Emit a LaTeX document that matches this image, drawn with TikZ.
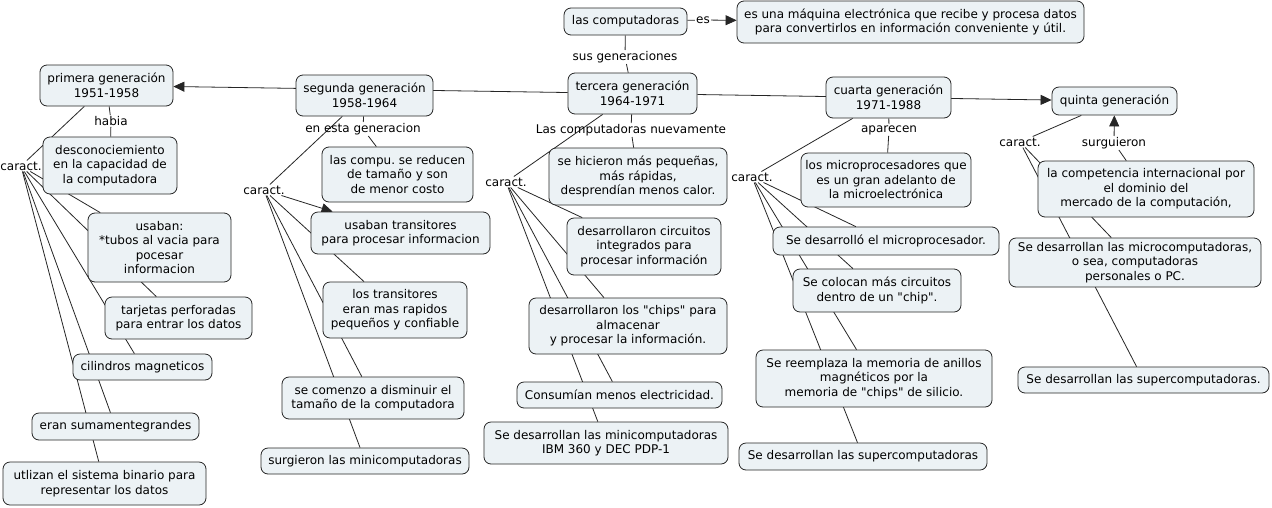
\documentclass[tikz,border=0pt]{standalone}
\usepackage{fontspec}
\setmainfont{DejaVu Sans}[Ligatures=TeXOff]
\usetikzlibrary{arrows.meta,backgrounds}
\definecolor{cfill}{RGB}{236,242,245}
\newcommand{\sq}{\symbol{34}}
\frenchspacing
\begin{document}
\begin{tikzpicture}[x=1pt,y=-1pt,
  every node/.style={font=\fontsize{12}{14.5}\selectfont},
  concept/.style={draw=black!85, line width=0.8pt, fill=cfill, rounded corners=7pt, align=center, inner sep=1pt},
  sz/.style 2 args={minimum width=#1pt, minimum height=#2pt},
  lbl/.style={inner sep=1pt, align=center},
  link/.style={draw=black!85, line width=0.8pt},
  arr/.style={link, -{Triangle[length=11pt,width=10pt]}}
]
\useasboundingbox (0,0) rectangle (1272,507);

% top
\node[concept, sz={123}{27}] (comp) at (625.5,21.5) {las computadoras};
\node[concept, sz={347}{42}] (def) at (910.5,22) {es una máquina electrónica que recibe y procesa datos\\para convertirlos en información conveniente y útil.};
\node[lbl] (es) at (703,20) {es};
\node[lbl] (susgen) at (625,57) {sus generaciones};

% generations
\node[concept, sz={133}{41}] (primera) at (106.5,85.5) {primera generación\\1951-1958};
\node[concept, sz={137}{41}] (segunda) at (364.5,95.5) {segunda generación\\1958-1964};
\node[concept, sz={129}{41}] (tercera) at (632.5,93.5) {tercera generación\\1964-1971};
\node[concept, sz={125}{41}] (cuarta) at (888.5,97.5) {cuarta generación\\1971-1988};
\node[concept, sz={125}{28}] (quinta) at (1114.5,101) {quinta generación};

% primera group
\node[lbl] (habia) at (111,121) {habia};
\node[lbl] (car1) at (21,166) {caract.};
\node[concept, sz={134}{57}] (desc) at (110,165.5) {desconociemiento\\en la capacidad de\\la computadora};
\node[concept, sz={143}{69}] (usaban) at (159.5,247.5) {usaban:\\*tubos al vacia para\\pocesar\\informacion};
\node[concept, sz={147}{42}] (tarjetas) at (178.5,318) {tarjetas perforadas\\para entrar los datos};
\node[concept, sz={139}{26}] (cilindros) at (142.5,367) {cilindros magneticos};
\node[concept, sz={167}{27}] (eran) at (115.5,426.5) {eran sumamentegrandes};
\node[concept, sz={203}{43}] (utlizan) at (104.5,483.5) {utlizan el sistema binario para\\representar los datos};

% segunda group
\node[lbl] (enesta) at (363,129) {en esta generacion};
\node[lbl] (car2) at (264,190) {caract.};
\node[concept, sz={151}{55}] (lascompu) at (397.5,174.5) {las compu. se reducen\\de tamaño y son\\de menor costo};
\node[concept, sz={179}{42}] (utrans) at (400.5,233) {usaban transitores\\para procesar informacion};
\node[concept, sz={144}{56}] (lostrans) at (395,310) {los transitores\\eran mas rapidos\\pequeños y confiable};
\node[concept, sz={182}{42}] (secomenzo) at (373,398) {se comenzo a disminuir el\\tamaño de la computadora};
\node[concept, sz={208}{26}] (surgieron) at (365,461) {surgieron las minicomputadoras};

% tercera group
\node[lbl] (nuev) at (631,130) {Las computadoras nuevamente};
\node[lbl] (car3) at (506,182) {caract.};
\node[concept, sz={178}{57}] (hicieron) at (638,176.5) {se hicieron más pequeñas,\\más rápidas,\\desprendían menos calor.};
\node[concept, sz={154}{57}] (circuitos) at (644,246.5) {desarrollaron circuitos\\integrados para\\procesar información};
\node[concept, sz={198}{56}] (chips) at (628,326) {desarrollaron los \sq chips\sq{} para\\almacenar\\y procesar la información.};
\node[concept, sz={205}{26}] (consumian) at (619.5,395) {Consumían menos electricidad.};
\node[concept, sz={244}{42}] (ibm) at (606,443) {Se desarrollan las minicomputadoras\\IBM 360 y DEC PDP-1};

% cuarta group
\node[lbl] (aparecen) at (889,130) {aparecen};
\node[lbl] (car4) at (752,177) {caract.};
\node[concept, sz={170}{54}] (microproc) at (886,180) {los microprocesadores que\\es un gran adelanto de\\la microelectrónica};
\node[concept, sz={226}{28}] (desarrollo) at (886,241) {Se desarrolló el microprocesador.};
\node[concept, sz={168}{43}] (colocan) at (877,290.5) {Se colocan más circuitos\\dentro de un \sq chip\sq.};
\node[concept, sz={236}{57}] (reemplaza) at (874,378.5) {Se reemplaza la memoria de anillos\\magnéticos por la\\memoria de \sq chips\sq{} de silicio.};
\node[concept, sz={248}{27}] (superA) at (863,456.5) {Se desarrollan las supercomputadoras};

% quinta group
\node[lbl] (surgu) at (1114,143) {surguieron};
\node[lbl] (car5) at (1020,142) {caract.};
\node[concept, sz={216}{56}] (competencia) at (1146,189) {la competencia internacional por\\el dominio del\\mercado de la computación,};
\node[concept, sz={252}{49}] (microcomp) at (1135,262.5) {Se desarrollan las microcomputadoras,\\o sea, computadoras\\personales o PC.};
\node[concept, sz={251}{26}] (superB) at (1143.5,380) {Se desarrollan las supercomputadoras.};

\begin{pgfonlayer}{background}
\fill[white] (0,0) rectangle (1272,507);
% top
\draw[link] (comp) -- (es);
\draw[arr] (es) -- (def);
\draw[link] (comp) -- (susgen);
\draw[link] (susgen) -- (tercera);
\draw[arr] (tercera) -- (primera);
\draw[arr] (tercera) -- (quinta);
% primera
\draw[link] (primera) -- (habia);
\draw[link] (habia) -- (desc);
\draw[link] (primera) -- (car1);
\foreach \t in {usaban,tarjetas,cilindros,eran,utlizan} \draw[link] (car1) -- (\t);
% segunda
\draw[link] (segunda) -- (enesta);
\draw[link] (enesta) -- (lascompu);
\draw[link] (segunda) -- (car2);
\draw[arr] (car2) -- (utrans);
\foreach \t in {lostrans,secomenzo,surgieron} \draw[link] (car2) -- (\t);
% tercera
\draw[link] (tercera) -- (nuev);
\draw[link] (nuev) -- (hicieron);
\draw[link] (tercera) -- (car3);
\foreach \t in {circuitos,chips,consumian,ibm} \draw[link] (car3) -- (\t);
% cuarta
\draw[link] (cuarta) -- (aparecen);
\draw[link] (aparecen) -- (microproc);
\draw[link] (cuarta) -- (car4);
\foreach \t in {desarrollo,colocan,reemplaza,superA} \draw[link] (car4) -- (\t);
% quinta
\draw[link] (competencia) -- (surgu);
\draw[arr] (surgu) -- (quinta);
\draw[link] (quinta) -- (car5);
\foreach \t in {microcomp,superB} \draw[link] (car5) -- (\t);
\end{pgfonlayer}
\end{tikzpicture}
\end{document}
